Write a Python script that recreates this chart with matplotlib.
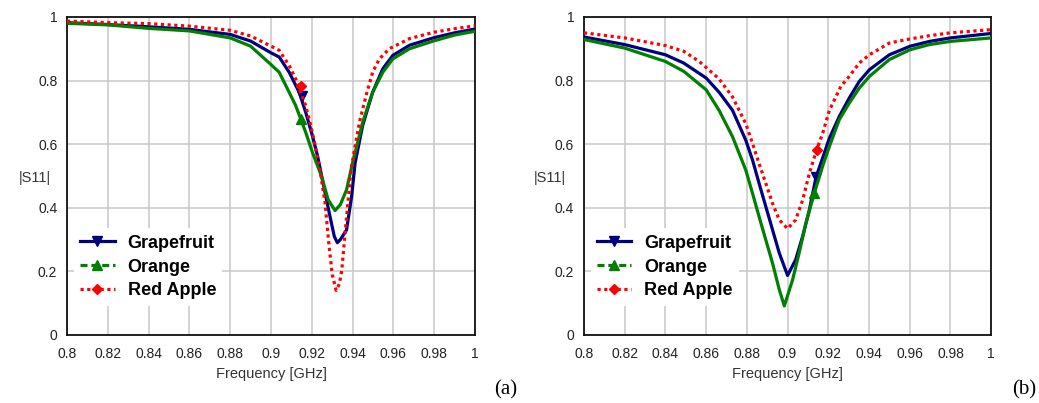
import matplotlib
matplotlib.use('Agg')
import matplotlib.pyplot as plt
from matplotlib.lines import Line2D

plt.rcParams['font.family'] = ['Liberation Sans', 'DejaVu Sans']

# ---- (a) data ----
a_grape_f = [0.80, 0.82, 0.84, 0.86, 0.88, 0.89, 0.90, 0.904, 0.9089, 0.9138, 0.917, 0.9203,
             0.9228, 0.9248, 0.928, 0.931, 0.9325, 0.934, 0.937, 0.9395, 0.9412, 0.9449,
             0.9498, 0.9548, 0.9597, 0.9679, 0.98, 0.99, 1.00]
a_grape_s = [0.982, 0.976, 0.969, 0.961, 0.945, 0.924, 0.887, 0.874, 0.826, 0.763, 0.700, 0.626,
             0.563, 0.500, 0.400, 0.310, 0.290, 0.300, 0.330, 0.435, 0.540, 0.658,
             0.763, 0.837, 0.879, 0.911, 0.935, 0.950, 0.962]

a_orange_f = [0.80, 0.82, 0.84, 0.86, 0.88, 0.89, 0.90, 0.904, 0.9089, 0.9121, 0.917, 0.9203,
              0.9248, 0.928, 0.9314, 0.934, 0.937, 0.94, 0.9449, 0.9498, 0.9548, 0.9597,
              0.9679, 0.98, 0.99, 1.00]
a_orange_s = [0.980, 0.975, 0.964, 0.956, 0.934, 0.908, 0.850, 0.826, 0.763, 0.721, 0.637, 0.574,
              0.498, 0.425, 0.391, 0.410, 0.456, 0.542, 0.668, 0.763, 0.826, 0.868,
              0.900, 0.925, 0.943, 0.955]

a_apple_f = [0.80, 0.82, 0.84, 0.86, 0.88, 0.89, 0.90, 0.904, 0.9089, 0.9121, 0.917, 0.9195,
             0.922, 0.924, 0.9265, 0.9284, 0.930, 0.9319, 0.9335, 0.9347, 0.9363, 0.9392,
             0.9433, 0.9466, 0.9498, 0.9531, 0.958, 0.963, 0.9679, 0.98, 0.99, 1.00]
a_apple_s = [0.987, 0.982, 0.979, 0.971, 0.958, 0.940, 0.908, 0.895, 0.847, 0.805, 0.721, 0.658,
             0.584, 0.519, 0.414, 0.283, 0.190, 0.140, 0.160, 0.204, 0.320, 0.520,
             0.668, 0.753, 0.826, 0.868, 0.900, 0.916, 0.932, 0.952, 0.963, 0.972]

a_marker_f = [0.915, 0.9146, 0.9146]
a_marker_s = [0.750, 0.679, 0.784]

# ---- (b) data ----
b_grape_f = [0.80, 0.82, 0.84, 0.849, 0.86, 0.8664, 0.873, 0.8795, 0.8828, 0.886, 0.8893, 0.8926,
             0.8959, 0.900, 0.904, 0.9074, 0.9107, 0.914, 0.9172, 0.9205, 0.9254, 0.9303,
             0.9352, 0.9402, 0.95, 0.9602, 0.9697, 0.98, 1.00]
b_grape_s = [0.937, 0.913, 0.881, 0.855, 0.808, 0.763, 0.706, 0.612, 0.550, 0.477, 0.404, 0.331,
             0.258, 0.187, 0.237, 0.310, 0.393, 0.497, 0.556, 0.618, 0.687, 0.745,
             0.797, 0.834, 0.881, 0.908, 0.923, 0.934, 0.948]

b_orange_f = [0.80, 0.82, 0.84, 0.849, 0.86, 0.8664, 0.873, 0.8795, 0.8828, 0.886, 0.8893, 0.8926,
              0.8959, 0.8984, 0.9025, 0.9057, 0.909, 0.9131, 0.9172, 0.9205, 0.9254, 0.9303,
              0.9352, 0.9402, 0.95, 0.9602, 0.9697, 0.98, 1.00]
b_orange_s = [0.929, 0.902, 0.860, 0.829, 0.771, 0.706, 0.623, 0.518, 0.445, 0.372, 0.299, 0.226,
              0.143, 0.091, 0.174, 0.258, 0.351, 0.445, 0.530, 0.592, 0.677, 0.729,
              0.776, 0.813, 0.866, 0.897, 0.913, 0.923, 0.934]

b_apple_f = [0.80, 0.82, 0.84, 0.849, 0.8566, 0.8664, 0.873, 0.8795, 0.8828, 0.886, 0.8893, 0.8926,
             0.8959, 0.900, 0.904, 0.9074, 0.9107, 0.9143, 0.9172, 0.9205, 0.9262, 0.9303,
             0.9352, 0.9402, 0.95, 0.9602, 0.9697, 0.98, 1.00]
b_apple_s = [0.950, 0.934, 0.910, 0.892, 0.860, 0.805, 0.748, 0.664, 0.602, 0.539, 0.477, 0.414,
             0.362, 0.334, 0.362, 0.424, 0.508, 0.583, 0.633, 0.706, 0.782, 0.813,
             0.855, 0.881, 0.918, 0.931, 0.941, 0.950, 0.960]

b_marker_f = [0.914, 0.9131, 0.9143]
b_marker_s = [0.497, 0.445, 0.583]

labels = ['Grapefruit', 'Orange', 'Red Apple']
colors = ['#000080', '#008000', '#ff0000']
markers = ['v', '^', 'D']

xticks = [0.8, 0.82, 0.84, 0.86, 0.88, 0.9, 0.92, 0.94, 0.96, 0.98, 1.0]
xticklabels = ['0.8', '0.82', '0.84', '0.86', '0.88', '0.9', '0.92', '0.94', '0.96', '0.98', '1']
yticks = [0, 0.2, 0.4, 0.6, 0.8, 1.0]
yticklabels = ['0', '0.2', '0.4', '0.6', '0.8', '1']

fig = plt.figure(figsize=(10.39, 4.03), dpi=100)
ax_a = fig.add_axes([0.0645, 0.169, 0.3927, 0.789])
ax_b = fig.add_axes([0.562, 0.169, 0.392, 0.789])


def draw(ax, series, mk_f, mk_s, ylab_x):
    for i, ((f, s), c) in enumerate(zip(series, colors)):
        if i == 2:
            ax.plot(f, s, color=c, lw=2.3, dashes=(1, 1.1), zorder=3 + i)
        else:
            ax.plot(f, s, color=c, lw=2.3, zorder=3 + i)
        ax.plot(mk_f[i], mk_s[i], marker=markers[i], color=c, ms=7 if i < 2 else 5.5,
                ls='none', zorder=3 + i)
    ax.set_xlim(0.8, 1.0)
    ax.set_ylim(0, 1)
    ax.set_xticks(xticks)
    ax.set_xticklabels(xticklabels)
    ax.set_yticks(yticks)
    ax.set_yticklabels(yticklabels)
    ax.tick_params(axis='x', length=0, pad=9, labelsize=10, labelcolor='#222222')
    ax.tick_params(axis='y', length=0, pad=7, labelsize=10, labelcolor='#222222')
    ax.grid(True, color='#c8c8c8', lw=1.1)
    ax.set_axisbelow(True)
    for sp in ax.spines.values():
        sp.set_linewidth(1.3)
        sp.set_color('#111111')
    ax.set_xlabel('Frequency [GHz]', fontsize=10.5, color='#333333', labelpad=4)
    ax.text(ylab_x, 0.494, '|S11|', transform=ax.transAxes, ha='center', va='center',
            fontsize=10.5, color='#333333')

    handles = [
        Line2D([], [], color=colors[0], lw=2.3, marker='v', ms=7),
        Line2D([], [], color=colors[1], lw=2.3, ls=(0, (2.2, 1.2)), marker='^', ms=7),
        Line2D([], [], color=colors[2], lw=2.3, dashes=(1, 1.1), marker='D', ms=5.5),
    ]
    leg = ax.legend(handles, labels, loc='upper left', bbox_to_anchor=(0.017, 0.335),
                    frameon=True, facecolor='white', edgecolor='none', framealpha=1,
                    fancybox=False, handlelength=1.9, handletextpad=0.72, labelspacing=0.38,
                    borderpad=0.35, borderaxespad=0.0,
                    prop={'size': 13, 'weight': 'bold'})
    leg.set_zorder(10)


draw(ax_a, [(a_grape_f, a_grape_s), (a_orange_f, a_orange_s), (a_apple_f, a_apple_s)],
     a_marker_f, a_marker_s, -0.078)
draw(ax_b, [(b_grape_f, b_grape_s), (b_orange_f, b_orange_s), (b_apple_f, b_apple_s)],
     b_marker_f, b_marker_s, -0.083)

fig.text(0.487, 0.032, '(a)', ha='center', va='center', fontsize=15, family='Liberation Serif')
fig.text(0.9856, 0.032, '(b)', ha='center', va='center', fontsize=15, family='Liberation Serif')

fig.savefig('out.png', dpi=100)
